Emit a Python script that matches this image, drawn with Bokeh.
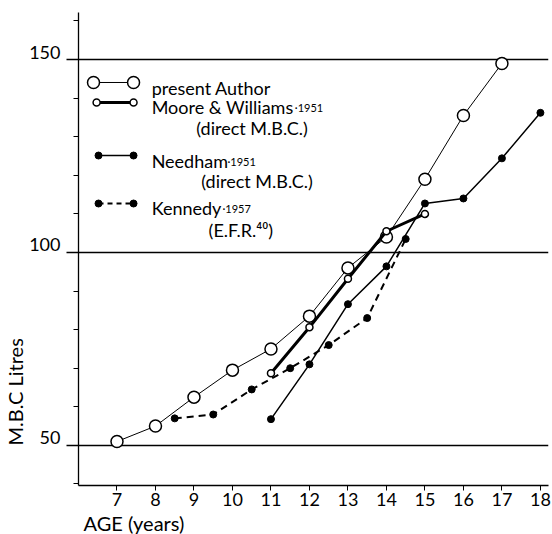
from bokeh.plotting import figure
from bokeh.models import FixedTicker, Label, Range1d, LinearAxis, Title
from bokeh.embed import file_html
from bokeh.resources import INLINE

# ---- data ----
author_age = [7, 8, 9, 10, 11, 12, 13, 14, 15, 16, 17]
author_mbc = [51, 55, 62.5, 69.5, 75, 83.5, 96, 104, 119, 135.5, 149]

moore_age = [11, 12, 13, 14, 15]
moore_mbc = [68.7, 80.6, 93.2, 105.5, 110]

needham_age = [11, 12, 13, 14, 15, 16, 17, 18]
needham_mbc = [56.8, 71, 86.6, 96.4, 112.7, 114, 124.4, 136.2]

kennedy_age = [8.5, 9.5, 10.5, 11.5, 12.5, 13.5, 14.5]
kennedy_mbc = [57, 58, 64.5, 70, 76, 83, 103.5]

x_ticks = [7, 8, 9, 10, 11, 12, 13, 14, 15, 16, 17, 18]
y_major = [50, 100, 150]
y_minor = [40, 60, 70, 80, 90, 110, 120, 130, 140, 160]

FONT = "Lato"
Y0, Y1 = 39.6, 162.2
LABEL_SHIFT = 1.95   # tick labels sit just above their lines

p = figure(frame_width=470, frame_height=473, output_backend="svg", toolbar_location=None,
           x_range=Range1d(6, 18.21), y_range=Range1d(Y0, Y1))
p.min_border_left = 77
p.min_border_right = 3
p.min_border_top = 12
p.min_border_bottom = 47
p.outline_line_color = None
p.background_fill_color = "white"
p.border_fill_color = "white"

# grid: only horizontal lines at 50/100/150
p.xgrid.visible = False
p.ygrid.ticker = FixedTicker(ticks=y_major)
p.ygrid.grid_line_color = "black"
p.ygrid.grid_line_width = 1.3

# x axis
xa = p.xaxis[0]
xa.ticker = FixedTicker(ticks=x_ticks)
xa.axis_line_color = "black"
xa.axis_line_width = 1.3
xa.major_tick_out = 5
xa.major_tick_in = 0
xa.minor_tick_line_color = None
xa.major_label_text_font = FONT
xa.major_label_text_font_size = "18px"
xa.major_label_text_color = "black"
xa.major_label_standoff = 2

# y axis: line and ticks (labels come from the second axis)
ya = p.yaxis[0]
ya.ticker = FixedTicker(ticks=y_major, minor_ticks=y_minor)
ya.axis_line_color = "black"
ya.axis_line_width = 1.3
ya.major_tick_out = 12
ya.major_tick_in = 0
ya.major_tick_line_width = 1.3
ya.minor_tick_out = 5
ya.minor_tick_in = 0
ya.minor_tick_line_color = "black"
ya.major_label_overrides = {50: "", 100: "", 150: ""}
ya.major_label_standoff = 0

# second left axis only for the tick labels, lifted above their lines
p.extra_y_ranges = {"lab": Range1d(Y0 - LABEL_SHIFT, Y1 - LABEL_SHIFT)}
la = LinearAxis(y_range_name="lab", ticker=FixedTicker(ticks=y_major))
la.axis_line_color = None
la.major_tick_line_color = None
la.minor_tick_line_color = None
la.major_label_standoff = 0
la.major_label_text_font = FONT
la.major_label_text_font_size = "18px"
la.major_label_text_color = "black"
p.add_layout(la, "left")

# ---- series ----
p.line(author_age, author_mbc, line_color="black", line_width=1)
p.scatter(author_age, author_mbc, marker="circle", size=12, fill_color="white",
          line_color="black", line_width=1.5)

p.line(kennedy_age, kennedy_mbc, line_color="black", line_width=2, line_dash="7 5")
p.scatter(kennedy_age, kennedy_mbc, marker="circle", size=7, fill_color="black",
          line_color="black")

p.line(needham_age, needham_mbc, line_color="black", line_width=1.5)
p.scatter(needham_age, needham_mbc, marker="circle", size=7, fill_color="black",
          line_color="black")

p.line(moore_age, moore_mbc, line_color="black", line_width=3)
p.scatter(moore_age, moore_mbc, marker="circle", size=7, fill_color="white",
          line_color="black", line_width=1.5)

# ---- legend (drawn by hand) ----
lx2 = 7.43
p.line([6.39, lx2], [144.06] * 2, line_color="black", line_width=1)
p.scatter([6.39, lx2], [144.06] * 2, marker="circle", size=12, fill_color="white",
          line_color="black", line_width=1.5)
p.line([6.47, lx2], [138.87] * 2, line_color="black", line_width=3)
p.scatter([6.47, lx2], [138.87] * 2, marker="circle", size=7, fill_color="white",
          line_color="black", line_width=1.5)
p.line([6.52, lx2], [125.13] * 2, line_color="black", line_width=1.5)
p.scatter([6.52, lx2], [125.13] * 2, marker="circle", size=7, fill_color="black",
          line_color="black")
p.line([6.52, lx2], [112.69] * 2, line_color="black", line_width=2, line_dash="5 4")
p.scatter([6.52, lx2], [112.69] * 2, marker="circle", size=7, fill_color="black",
          line_color="black")

def lab(x, y, text, size="18px"):
    p.add_layout(Label(x=x, y=y, text=text, text_font=FONT,
                       text_font_size=size, text_color="black", text_align="left",
                       text_baseline="alphabetic"))

tx = 7.90
lab(tx, 142.76, "present Author")
lab(tx, 137.58, "Moore & Williams")
lab(11.62, 137.58, "·1951", size="11px")
lab(9.06, 132.39, "(direct M.B.C.)")
lab(tx, 123.66, "Needham")
lab(9.87, 123.66, "·1951", size="11px")
lab(9.19, 118.4, "(direct M.B.C.)")
lab(tx, 111.4, "Kennedy")
lab(9.74, 111.4, "·1957", size="11px")
lab(9.38, 105.8, "(E.F.R.⁴⁰)")

# axis titles
p.add_layout(Title(text="AGE (years)", align="left", offset=5, standoff=0,
                   text_font=FONT, text_font_size="20px", text_font_style="normal",
                   text_color="black"), "below")
p.add_layout(Title(text="M.B.C Litres", align="left", offset=40, standoff=0,
                   text_font=FONT, text_font_size="20px", text_font_style="normal",
                   text_color="black"), "left")

open("out.html", "w").write(file_html(p, INLINE))
